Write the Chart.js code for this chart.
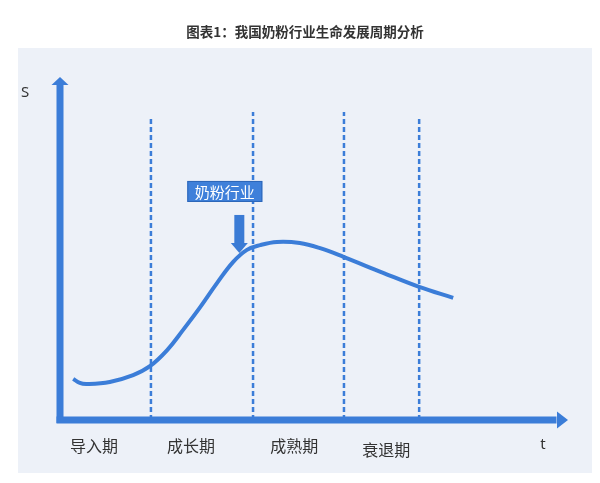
<!DOCTYPE html>
<html>
<head>
<meta charset="utf-8">
<script src="https://cdn.jsdelivr.net/npm/chart.js@4"></script>
<style>
  html, body { margin: 0; padding: 0; background: #ffffff; }
  #chart { display: block; }
</style>
</head>
<body>
<canvas id="chart" width="600" height="483"></canvas>
<script>
// life-cycle curve, t (time) vs S (sales)
const curveT = [0.26, 0.39, 0.53, 0.98, 1.44, 1.77, 2.11, 2.42, 2.76, 3.09, 3.41, 3.68, 3.94, 4.27, 4.72, 5.12, 5.59, 6.36, 7.07, 7.74];
const curveS = [1.20, 1.08, 1.05, 1.11, 1.31, 1.57, 2.04, 2.62, 3.29, 3.99, 4.61, 4.96, 5.10, 5.19, 5.16, 5.01, 4.75, 4.29, 3.88, 3.56];

// phase boundaries (dashed lines) and their heights
const boundaryT = [1.79, 3.80, 5.59, 7.07];
const boundaryTop = [8.86, 8.98, 8.98, 8.86];

// phase names and where they sit on the t axis
const phaseLabels = ['导入期', '成长期', '成熟期', '衰退期'];
const phaseLabelT = [0.67, 2.58, 4.61, 6.42];

// the marker pointing at the industry's current position
const markerLabel = '奶粉行业';
const markerT = 3.53;
const markerS = 4.87;

const titleText = '图表1：我国奶粉行业生命发展周期分析';
const blue = '#3b7dd8';

const datasets = [{
    data: curveT.map((t, i) => ({ x: t, y: curveS[i] })),
    borderColor: blue,
    borderWidth: 4,
    pointRadius: 0,
    tension: 0.4,
    fill: false
}];

boundaryT.forEach((t, i) => {
    datasets.push({
        data: [{ x: t, y: 0 }, { x: t, y: boundaryTop[i] }],
        borderColor: blue,
        borderWidth: 2.5,
        borderDash: [5, 3],
        pointRadius: 0,
        fill: false
    });
});

const lifeCyclePlugin = {
    id: 'lifeCycle',
    beforeDraw(chart) {
        const ctx = chart.ctx;
        ctx.save();
        ctx.fillStyle = '#ffffff';
        ctx.fillRect(0, 0, chart.width, chart.height);
        ctx.fillStyle = '#edf1f8';
        ctx.fillRect(18, 48, 574, 425);

        ctx.fillStyle = '#333333';
        ctx.font = 'bold 13.5px "Noto Sans CJK SC", sans-serif';
        ctx.textAlign = 'center';
        ctx.textBaseline = 'middle';
        ctx.fillText(titleText, 305, 32);
        ctx.restore();
    },
    afterDatasetsDraw(chart) {
        const ctx = chart.ctx;
        const xs = chart.scales.x;
        const ys = chart.scales.y;
        const area = chart.chartArea;
        ctx.save();

        // axes with arrow heads
        ctx.fillStyle = blue;
        const ax = xs.getPixelForValue(0);
        const ay = ys.getPixelForValue(0);
        ctx.fillRect(ax - 3.5, area.top + 7, 7, ay - area.top - 4);
        ctx.fillRect(ax - 3.5, ay - 3.5, area.right - ax - 8, 7);
        ctx.beginPath();
        ctx.moveTo(ax, area.top);
        ctx.lineTo(ax - 8.5, area.top + 8);
        ctx.lineTo(ax + 8.5, area.top + 8);
        ctx.closePath();
        ctx.fill();
        ctx.beginPath();
        ctx.moveTo(area.right, ay);
        ctx.lineTo(area.right - 11, ay - 8.5);
        ctx.lineTo(area.right - 11, ay + 8.5);
        ctx.closePath();
        ctx.fill();

        // axis names
        ctx.fillStyle = '#333333';
        ctx.font = '15px "Noto Sans", sans-serif';
        ctx.textAlign = 'center';
        ctx.textBaseline = 'middle';
        ctx.fillText('S', 25, 93);
        ctx.fillText('t', 543, 445);

        // phase names
        ctx.font = '16px "Noto Sans CJK SC", sans-serif';
        phaseLabels.forEach((label, i) => {
            const yOff = i === 3 ? 30 : 26;
            ctx.fillText(label, xs.getPixelForValue(phaseLabelT[i]), ay + yOff);
        });

        // marker box and down arrow
        const mx = xs.getPixelForValue(markerT);
        const my = ys.getPixelForValue(markerS);
        const bx = mx - 52, by = my - 72, bw = 75, bh = 21;
        ctx.fillStyle = '#3f80da';
        ctx.fillRect(bx, by, bw, bh);
        ctx.strokeStyle = '#2d66b8';
        ctx.lineWidth = 1;
        ctx.strokeRect(bx + 0.5, by + 0.5, bw - 1, bh - 1);
        ctx.fillStyle = '#ffffff';
        ctx.font = '15px "Noto Sans CJK SC", sans-serif';
        ctx.fillText(markerLabel, bx + bw / 2, by + bh / 2 + 0.5);

        ctx.fillStyle = '#3a7bd5';
        ctx.fillRect(mx - 5, my - 38, 10, 29);
        ctx.beginPath();
        ctx.moveTo(mx, my);
        ctx.lineTo(mx - 8.5, my - 10);
        ctx.lineTo(mx + 8.5, my - 10);
        ctx.closePath();
        ctx.fill();

        ctx.restore();
    }
};

new Chart(document.getElementById('chart'), {
    type: 'line',
    data: { datasets: datasets },
    options: {
        responsive: false,
        animation: false,
        layout: { padding: { left: 60, right: 32, top: 77, bottom: 63 } },
        scales: {
            x: { type: 'linear', min: 0, max: 10, display: false },
            y: { type: 'linear', min: 0, max: 10, display: false }
        },
        plugins: {
            legend: { display: false },
            tooltip: { enabled: false }
        }
    },
    plugins: [lifeCyclePlugin]
});
</script>
</body>
</html>
